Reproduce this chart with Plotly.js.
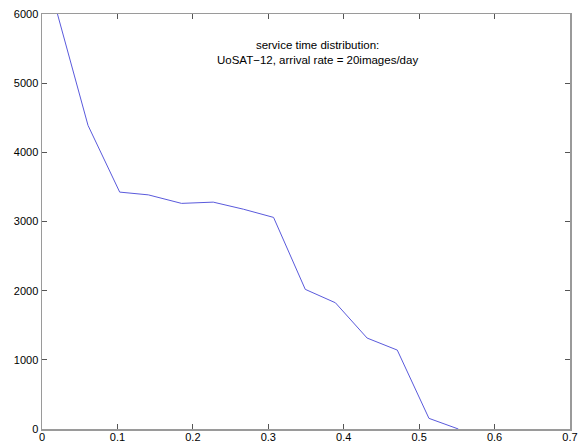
<!DOCTYPE html>
<html>
<head>
<meta charset="utf-8">
<script src="https://cdn.plot.ly/plotly-3.0.1.min.js"></script>
<style>
  html, body { margin: 0; padding: 0; background: #fff; }
  #chart { width: 584px; height: 444px; }
</style>
</head>
<body>
<div id="chart"></div>
<script>
// Service time distribution samples
const serviceTime = [0.0205, 0.061, 0.103, 0.141, 0.185, 0.227, 0.267, 0.307, 0.349, 0.389, 0.431, 0.471, 0.513, 0.552];
const counts = [6000, 4390, 3425, 3385, 3262, 3280, 3178, 3059, 2019, 1825, 1315, 1141, 154, 0];

const xTicks = [0, 0.1, 0.2, 0.3, 0.4, 0.5, 0.6, 0.7];
const xTickLabels = ['0', '0.1', '0.2', '0.3', '0.4', '0.5', '0.6', '0.7'];
const yTicks = [0, 1000, 2000, 3000, 4000, 5000, 6000];
const yTickLabels = ['0', '1000', '2000', '3000', '4000', '5000', '6000'];

const titleLines = ['service time distribution:', 'UoSAT\u221212, arrival rate = 20images/day'];

const axisCommon = {
  showgrid: false,
  zeroline: false,
  showline: true,
  linecolor: '#9a9a9a',
  linewidth: 1.5,
  mirror: 'ticks',
  ticks: 'inside',
  ticklen: 5,
  tickwidth: 1,
  tickcolor: '#555',
  tickfont: { family: 'Liberation Sans, Arial, sans-serif', size: 11, color: '#000' }
};

const trace = {
  x: serviceTime,
  y: counts,
  type: 'scatter',
  mode: 'lines',
  line: { color: 'rgb(90,90,220)', width: 1 },
  hoverinfo: 'skip',
  cliponaxis: true
};

const layout = {
  width: 584,
  height: 444,
  margin: { l: 42, r: 14, t: 14, b: 15 },
  paper_bgcolor: '#fff',
  plot_bgcolor: '#fff',
  showlegend: false,
  xaxis: Object.assign({}, axisCommon, {
    range: [0, 0.7],
    tickvals: xTicks,
    ticktext: xTickLabels,
    ticklabelstandoff: -3
  }),
  yaxis: Object.assign({}, axisCommon, {
    range: [0, 6000],
    tickvals: yTicks,
    ticktext: yTickLabels
  }),
  annotations: [{
    x: 0.365,
    y: 5450,
    xref: 'x',
    yref: 'y',
    text: titleLines.join('<br>'),
    showarrow: false,
    align: 'center',
    font: { family: 'Liberation Sans, Arial, sans-serif', size: 11.5, color: '#000' }
  }]
};

Plotly.newPlot('chart', [trace], layout, { staticPlot: true, displayModeBar: false });
</script>
</body>
</html>
